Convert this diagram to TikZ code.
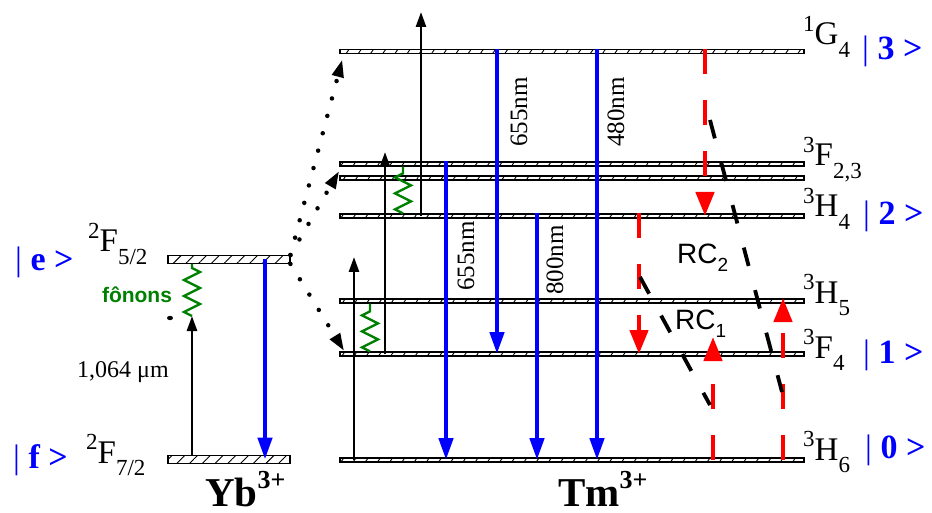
\documentclass[tikz,border=0pt]{standalone}
\usepackage{fontspec}
\setmainfont{Liberation Serif}
\setsansfont{Liberation Sans}
\usetikzlibrary{arrows.meta,positioning,patterns.meta,decorations.pathmorphing}

\newcommand{\trm}[3]{\raisebox{.42em}{\fontsize{23}{23}\selectfont #1}#2\raisebox{-.38em}{\fontsize{23}{23}\selectfont #3}}
\newcommand{\stt}[1]{\textcolor{blue}{| \textbf{#1 >}}}

\begin{document}
\begin{tikzpicture}[x=1pt, y=-1pt,
    tmlevel/.style={draw, line width=1.3pt, minimum width=464pt, minimum height=4pt, inner sep=0pt, pattern={Lines[angle=55,distance=10pt,line width=0.9pt]}},
    yblevel/.style={tmlevel, minimum width=122pt, minimum height=8pt, pattern={Lines[angle=45,distance=9pt,line width=0.9pt]}},
    term/.style={anchor=base west, inner sep=0pt, font=\fontsize{33}{36}\selectfont},
    state/.style={anchor=base west, inner sep=0pt, font=\fontsize{34}{36}\selectfont},
    nm/.style={rotate=90, inner sep=0pt, font=\fontsize{25}{28}\selectfont},
    rc/.style={anchor=base west, inner sep=0pt, font=\sffamily\fontsize{28}{30}\selectfont},
    ion/.style={anchor=base west, inner sep=0pt, font=\bfseries\fontsize{41}{44}\selectfont},
    pump/.style={line width=2.6pt, -{Triangle[length=15pt,width=10pt]}},
    emit/.style={line width=4.5pt, blue, -{Triangle[length=22pt,width=14pt]}},
    relax/.style={line width=4.5pt, red, dash pattern=on 25pt off 26pt, -{Triangle[length=24pt,width=18pt]}},
    cross/.style={line width=3.8pt, dash pattern=on 19pt off 25pt},
    transfer/.style={line width=4.5pt, line cap=round, dash pattern=on 0pt off 18pt, -{Triangle[length=18pt,width=11pt]}},
    phonon/.style={line width=2.4pt, green!50!black, decorate, decoration={zigzag, segment length=16pt, amplitude=8pt}}
  ]
  \useasboundingbox (0,0) rectangle (932,513);

  % Yb levels
  \node[yblevel] (F52) at (229,259.5) {};
  \node[yblevel] (F72) at (229,459.5) {};
  % Tm levels
  \node[tmlevel] (G4) at (572,51.5) {};
  \node[tmlevel] (F23a) at (572,164) {};
  \node[tmlevel] (F23b) at (572,178) {};
  \node[tmlevel] (H4) at (572,216) {};
  \node[tmlevel] (H5) at (572,301) {};
  \node[tmlevel] (F4) at (572,354) {};
  \node[tmlevel] (H6) at (572,460) {};

  % level names
  \node[state] (e) at (15,270) {\stt{e}};
  \node[term] (tF52) at (88,252) {\trm{2}{F}{5/2}};
  \node[state] (f) at (13,468) {\stt{f}};
  \node[term] (tF72) at (86,463) {\trm{2}{F}{7/2}};
  \node[term] (tG4) at (803,45) {\trm{1}{G}{4}};
  \node[state] (s3) at (862,60) {\stt{3}};
  \node[term] (tF23) at (803,166) {\trm{3}{F}{2,3}};
  \node[term] (tH4) at (803,217) {\trm{3}{H}{4}};
  \node[state] (s2) at (863,225) {\stt{2}};
  \node[term] (tH5) at (803,303) {\trm{3}{H}{5}};
  \node[term] (tF4) at (803,358) {\trm{3}{F}{4}};
  \node[state] (s1) at (863,363) {\stt{1}};
  \node[term] (tH6) at (803,460) {\trm{3}{H}{6}};
  \node[state] (s0) at (865,458) {\stt{0}};

  \node[ion] (yb) at (205,506) {Yb\raisebox{.42em}{\fontsize{26}{26}\selectfont 3+}};
  \node[ion] (tm) at (558,506) {Tm\raisebox{.42em}{\fontsize{26}{26}\selectfont 3+}};

  % Yb pump and phonons
  \coordinate (pY) at (192,316);
  \draw[pump] (F72.north -| pY) -- (pY);
  \draw[phonon] (pY) -- (F52.south -| pY);
  \fill (170,318) ellipse (3 and 2.2);
  \node[font=\sffamily\bfseries\fontsize{21}{24}\selectfont, text=green!50!black] (fon) at (137,295) {fônons};
  \node[anchor=base west, inner sep=0pt, font=\fontsize{24}{26}\selectfont] (lpump) at (77,377) {1,064 μm};
  \draw[emit] (F52.center -| 265,0) -- (F72.center -| 265,0);

  % energy transfer Yb -> Tm
  \draw[transfer] (F52.north east) -- ([xshift=3pt,yshift=-5pt]G4.south west);
  \draw[transfer] (F52.north east) -- ([yshift=-4pt]F23a.south west);
  \draw[transfer] (F52.south east) -- ([xshift=5pt]F4.north west);

  % Tm pumping steps
  \coordinate (p1) at (354,257);
  \coordinate (p2) at (385,152);
  \coordinate (p3) at (421,12);
  \draw[pump] (H6.center -| p1) -- (p1);
  \draw[pump] (F4.center -| p2) -- (p2);
  \draw[pump] (H4.center -| p3) -- (p3);
  \draw[phonon] (F4.north -| 370,0) -- (H5.south -| 370,0);
  \draw[phonon] (H4.north -| 403,0) -- (F23a.south -| 403,0);

  % emissions
  \draw[emit] (F23a.north -| 446,0) -- (H6.center -| 446,0);
  \draw[emit] (G4.north -| 497,0) -- (F4.center -| 497,0);
  \draw[emit] (H4.north -| 537,0) -- (H6.center -| 537,0);
  \draw[emit] (G4.north -| 597,0) -- (H6.center -| 597,0);
  \node[nm] (l655a) at (466,256) {655nm};
  \node[nm] (l655b) at (519,112) {655nm};
  \node[nm] (l800) at (555,260) {800nm};
  \node[nm] (l480) at (616,112) {480nm};

  % cross relaxations
  \coordinate (u1) at (713,337);
  \coordinate (u2) at (783,298);
  \draw[relax] (G4.north -| 705,0) -- (H4.center -| 705,0);
  \draw[relax] (H4.north -| 639,0) -- (F4.center -| 639,0);
  \draw[relax] (H6.center -| u1) -- (u1);
  \draw[relax] (H6.center -| u2) -- (u2);
  \coordinate (rc2a) at (710,120);
  \coordinate (rc2b) at (782,392);
  \coordinate (rc1a) at (640,277);
  \coordinate (rc1b) at (710,405);
  \draw[cross] (rc2a) -- (rc2b);
  \draw[cross] (rc1a) -- (rc1b);
  \node[rc] (rc2) at (677,263) {RC\raisebox{-.32em}{\fontsize{19}{19}\selectfont 2}};
  \node[rc] (rc1) at (675,329) {RC\raisebox{-.32em}{\fontsize{19}{19}\selectfont 1}};
\end{tikzpicture}
\end{document}
